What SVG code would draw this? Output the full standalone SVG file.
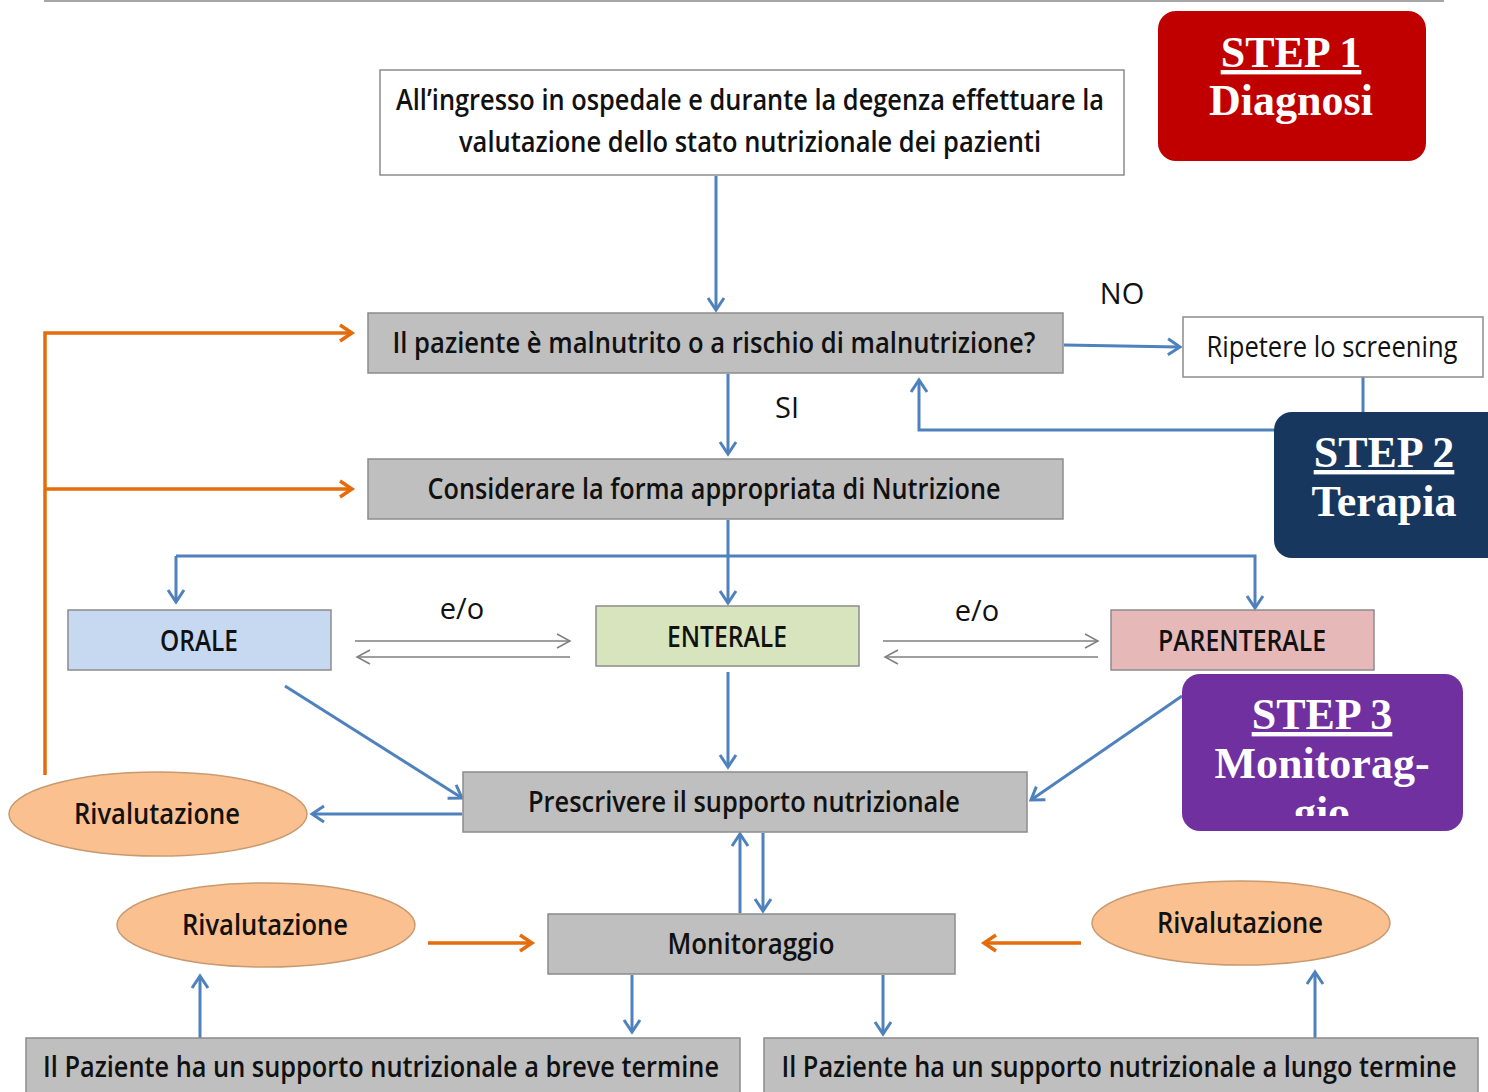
<svg xmlns="http://www.w3.org/2000/svg" width="1488" height="1092" viewBox="0 0 1488 1092">
<defs>
<style>
.lbl{font-family:"Open Sans","Liberation Sans",sans-serif;font-weight:600;font-size:29px;fill:#111}
.reg{font-family:"Open Sans","Liberation Sans",sans-serif;font-weight:400;font-size:29px;fill:#111}
.step{font-family:"Liberation Serif","Times New Roman",serif;font-weight:bold;font-size:44px;fill:#fff}
.gbox{fill:#BFBFBF;stroke:#8C8C8C;stroke-width:1.5}
.wbox{fill:#fff;stroke:#8C8C8C;stroke-width:1.5}
.ell{fill:#FAC090;stroke:#C89A70;stroke-width:1.5}
.blue{fill:none;stroke:#4F81BD;stroke-width:3}
.orange{fill:none;stroke:#E46C0A;stroke-width:3.5}
.thin{fill:none;stroke:#7F7F7F;stroke-width:1.5}
.edge{fill:none;stroke:#8C8C8C;stroke-width:1.5}
</style>
<marker id="ab" markerUnits="userSpaceOnUse" markerWidth="24" markerHeight="24" refX="14" refY="10" orient="auto" viewBox="0 0 24 20">
<path d="M2,2 L14,10 L2,18" fill="none" stroke="#4F81BD" stroke-width="3"/>
</marker>
<marker id="ao" markerUnits="userSpaceOnUse" markerWidth="24" markerHeight="24" refX="14" refY="10" orient="auto" viewBox="0 0 24 20">
<path d="M2,2 L14,10 L2,18" fill="none" stroke="#E46C0A" stroke-width="3.5"/>
</marker>
<marker id="ag" markerUnits="userSpaceOnUse" markerWidth="20" markerHeight="20" refX="14" refY="10" orient="auto" viewBox="0 0 20 20">
<path d="M1,3 L14,10 L1,17" fill="none" stroke="#7F7F7F" stroke-width="1.5"/>
</marker>
<clipPath id="c3"><rect x="1182" y="674" width="281" height="142"/></clipPath>
</defs>
<rect width="1488" height="1092" fill="#fff"/>
<path d="M45,0 V1 H1443 V0" fill="none" stroke="#A6A6A6" stroke-width="2"/>

<g id="connectors">
<path class="blue" d="M716,176 V310" marker-end="url(#ab)"/>
<path class="blue" d="M1064,345 L1180,347" marker-end="url(#ab)"/>
<path class="blue" d="M1363,377 V430 H919 V380" marker-end="url(#ab)"/>
<path class="blue" d="M728,374 V454" marker-end="url(#ab)"/>
<path class="blue" d="M728,520 V603" marker-end="url(#ab)"/>
<path class="blue" d="M176,556 H1255 V608" marker-end="url(#ab)"/>
<path class="blue" d="M176,556 V602" marker-end="url(#ab)"/>
<path class="thin" d="M355,641 H570" marker-end="url(#ag)"/>
<path class="thin" d="M570,657 H357" marker-end="url(#ag)"/>
<path class="thin" d="M883,641 H1098" marker-end="url(#ag)"/>
<path class="thin" d="M1098,657 H885" marker-end="url(#ag)"/>
<path class="orange" d="M45,775 V333 H352" marker-end="url(#ao)"/>
<path class="orange" d="M45,489 H352" marker-end="url(#ao)"/>
<path class="blue" d="M285,686 L462,798" marker-end="url(#ab)"/>
<path class="blue" d="M728,672 V767" marker-end="url(#ab)"/>
<path class="blue" d="M1182,696 L1031,800" marker-end="url(#ab)"/>
<path class="blue" d="M462,814 H312" marker-end="url(#ab)"/>
<path class="blue" d="M740,913 V834" marker-end="url(#ab)"/>
<path class="blue" d="M763,833 V911" marker-end="url(#ab)"/>
<path class="orange" d="M428,943 H532" marker-end="url(#ao)"/>
<path class="orange" d="M1081,943 H984" marker-end="url(#ao)"/>
<path class="blue" d="M632,975 V1032" marker-end="url(#ab)"/>
<path class="blue" d="M883,975 V1034" marker-end="url(#ab)"/>
<path class="blue" d="M200,1040 V976" marker-end="url(#ab)"/>
<path class="blue" d="M1315,1038 V972" marker-end="url(#ab)"/>
</g>

<text class="reg" x="1122" y="304" text-anchor="middle" font-size="32">NO</text>
<text class="reg" x="787" y="418" text-anchor="middle" font-size="32">SI</text>
<text class="reg" x="462" y="619" text-anchor="middle">e/o</text>
<text class="reg" x="977" y="621" text-anchor="middle">e/o</text>

<g id="step1">
<rect x="1158" y="11" width="268" height="150" rx="18" fill="#C00000"/>
<text class="step" x="1291" y="67" text-anchor="middle" text-decoration="underline">STEP 1</text>
<text class="step" x="1291" y="115" text-anchor="middle" font-size="42">Diagnosi</text>
</g>

<g id="ingresso">
<rect class="wbox" x="380" y="70" width="744" height="105"/>
<text class="lbl" x="750" y="110" text-anchor="middle" textLength="708" lengthAdjust="spacingAndGlyphs">All’ingresso in ospedale e durante la degenza effettuare la</text>
<text class="lbl" x="750" y="152" text-anchor="middle" textLength="582" lengthAdjust="spacingAndGlyphs">valutazione dello stato nutrizionale dei pazienti</text>
</g>

<g id="malnutrito">
<rect class="gbox" x="368" y="313" width="695" height="60"/>
<text class="lbl" x="714" y="353" text-anchor="middle" textLength="643" lengthAdjust="spacingAndGlyphs">Il paziente è malnutrito o a rischio di malnutrizione?</text>
</g>

<g id="ripetere">
<rect class="wbox" x="1183" y="317" width="300" height="60"/>
<text class="reg" x="1332" y="357" text-anchor="middle" font-size="25" textLength="251" lengthAdjust="spacingAndGlyphs">Ripetere lo screening</text>
</g>

<g id="step2">
<rect x="1274" y="412" width="230" height="146" rx="18" fill="#17375E"/>
<text class="step" x="1384" y="467" text-anchor="middle" text-decoration="underline">STEP 2</text>
<text class="step" x="1384" y="516" text-anchor="middle">Terapia</text>
</g>

<g id="considerare">
<rect class="gbox" x="368" y="459" width="695" height="60"/>
<text class="lbl" x="714" y="499" text-anchor="middle" textLength="573" lengthAdjust="spacingAndGlyphs">Considerare la forma appropriata di Nutrizione</text>
</g>

<g id="orale">
<rect x="68" y="610" width="263" height="60" fill="#C6D9F1" stroke="#8C8C8C" stroke-width="1.5"/>
<text class="lbl" x="199" y="651" text-anchor="middle" textLength="78" lengthAdjust="spacingAndGlyphs">ORALE</text>
</g>

<g id="enterale">
<rect x="596" y="606" width="263" height="60" fill="#D7E4BD" stroke="#8C8C8C" stroke-width="1.5"/>
<text class="lbl" x="727" y="647" text-anchor="middle" textLength="120" lengthAdjust="spacingAndGlyphs">ENTERALE</text>
</g>

<g id="parenterale">
<rect x="1111" y="610" width="263" height="60" fill="#E6B9B8" stroke="#8C8C8C" stroke-width="1.5"/>
<text class="lbl" x="1242" y="651" text-anchor="middle" textLength="168" lengthAdjust="spacingAndGlyphs">PARENTERALE</text>
</g>

<g id="step3">
<rect x="1182" y="674" width="281" height="157" rx="18" fill="#7030A0"/>
<g clip-path="url(#c3)">
<text class="step" x="1322" y="729" text-anchor="middle" text-decoration="underline">STEP 3</text>
<text class="step" x="1322" y="778" text-anchor="middle" font-size="42">Monitorag-</text>
<text class="step" x="1322" y="827" text-anchor="middle" font-size="42">gio</text>
</g>
</g>

<g id="prescrivere">
<rect class="gbox" x="463" y="772" width="564" height="60"/>
<text class="lbl" x="744" y="812" text-anchor="middle" textLength="432" lengthAdjust="spacingAndGlyphs">Prescrivere il supporto nutrizionale</text>
</g>

<g id="rival1">
<ellipse class="ell" cx="158" cy="814" rx="149" ry="42"/>
<text class="lbl" x="157" y="824" text-anchor="middle" textLength="166" lengthAdjust="spacingAndGlyphs">Rivalutazione</text>
</g>

<g id="monitoraggio">
<rect class="gbox" x="548" y="914" width="407" height="60"/>
<text class="lbl" x="751" y="954" text-anchor="middle" textLength="167" lengthAdjust="spacingAndGlyphs">Monitoraggio</text>
</g>

<g id="rival2">
<ellipse class="ell" cx="266" cy="925" rx="149" ry="42"/>
<text class="lbl" x="265" y="935" text-anchor="middle" textLength="166" lengthAdjust="spacingAndGlyphs">Rivalutazione</text>
</g>

<g id="rival3">
<ellipse class="ell" cx="1241" cy="923" rx="149" ry="42"/>
<text class="lbl" x="1240" y="933" text-anchor="middle" textLength="166" lengthAdjust="spacingAndGlyphs">Rivalutazione</text>
</g>

<g id="breve">
<rect x="26" y="1038" width="714" height="54" fill="#BFBFBF"/>
<path class="edge" d="M26,1092 V1038 H740 V1092"/>
<text class="lbl" x="381" y="1077" text-anchor="middle" font-size="26" textLength="676" lengthAdjust="spacingAndGlyphs">Il Paziente ha un supporto nutrizionale a breve termine</text>
</g>

<g id="lungo">
<rect x="764" y="1038" width="714" height="54" fill="#BFBFBF"/>
<path class="edge" d="M764,1092 V1038 H1478 V1092"/>
<text class="lbl" x="1119" y="1077" text-anchor="middle" font-size="26" textLength="675" lengthAdjust="spacingAndGlyphs">Il Paziente ha un supporto nutrizionale a lungo termine</text>
</g>
</svg>
